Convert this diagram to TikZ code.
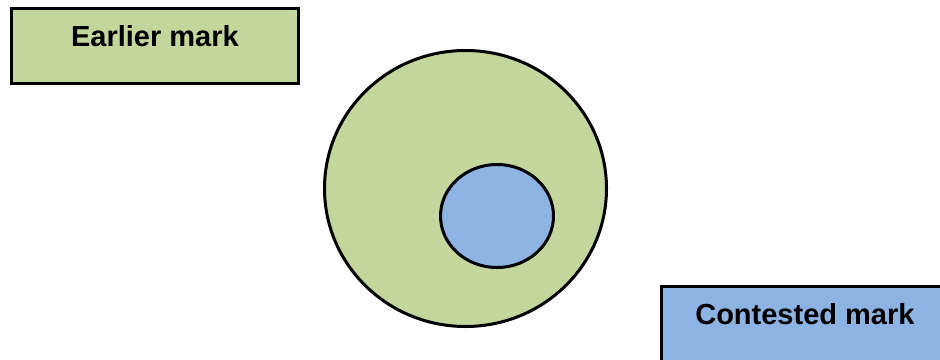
\documentclass[tikz,border=0pt]{standalone}
\usepackage{fontspec}
\setmainfont{Liberation Sans}
\usetikzlibrary{shapes.geometric}
\definecolor{markgreen}{HTML}{C3D69B}
\definecolor{markblue}{HTML}{8DB3E2}
\begin{document}
\begin{tikzpicture}[
    x=1pt, y=-1pt,
    markbox/.style={rectangle, draw, line width=3.4pt, anchor=north west, minimum width=287pt,
        inner xsep=0pt, inner ysep=0pt, text height=38.5pt, text depth=36.5pt,
        font=\fontsize{29}{34}\selectfont\bfseries},
    ring/.style={ellipse, draw, line width=3pt, inner sep=0pt}
]
\useasboundingbox (0,0) rectangle (940,359);

% Marks
\node[markbox, fill=markgreen] (earlier) at (9.7,6.7) {Earlier mark};
\node[markbox, fill=markblue] (contested) at (659.7,284.7) {Contested mark};

% Overlap of the goods
\node[ring, fill=markgreen, minimum width=282pt, minimum height=276pt] (outer) at (465.5,188.5) {};
\node[ring, fill=markblue, minimum width=113pt, minimum height=103pt] (inner) at (497,216) {};

\end{tikzpicture}
\end{document}
